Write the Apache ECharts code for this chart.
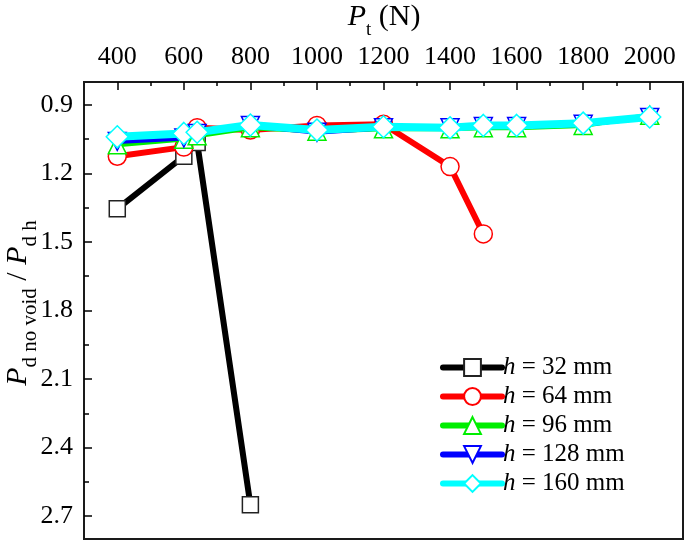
<!DOCTYPE html>
<html><head><meta charset="utf-8">
<script src="https://cdn.jsdelivr.net/npm/echarts@6/dist/echarts.min.js"></script>
<style>html,body{margin:0;padding:0;background:#fff}#c{width:685px;height:541px}</style>
</head><body><div id="c"></div>
<script>
// ---- data ----
const seriesNames = ['h = 32 mm','h = 64 mm','h = 96 mm','h = 128 mm','h = 160 mm'];
const x32 = [400, 600, 640, 800];
const y32 = [1.355, 1.125, 1.065, 2.65];
const x64 = [400, 600, 640, 800, 1000, 1200, 1400, 1500];
const y64 = [1.125, 1.085, 1.0, 1.01, 0.99, 0.985, 1.17, 1.465];
const x96 = [400, 600, 640, 800, 1000, 1200, 1400, 1500, 1600, 1800, 2000];
const y96 = [1.075, 1.05, 1.035, 1.0, 1.015, 1.005, 1.005, 1.0, 1.0, 0.99, 0.945];
const x128 = [400, 600, 640, 800, 1000, 1200, 1400, 1500, 1600, 1800, 2000];
const y128 = [1.06, 1.045, 1.025, 0.99, 1.02, 1.0, 1.0, 0.995, 0.995, 0.985, 0.955];
const x160 = [400, 600, 640, 800, 1000, 1200, 1400, 1500, 1600, 1800, 2000];
const y160 = [1.04, 1.025, 1.02, 0.988, 1.01, 0.996, 1.0, 0.99, 0.99, 0.98, 0.953];
const xTicks = [400, 600, 800, 1000, 1200, 1400, 1600, 1800, 2000];
const xMinorTicks = [500, 700, 900, 1100, 1300, 1500, 1700, 1900];
const yTicks = [0.9, 1.2, 1.5, 1.8, 2.1, 2.4, 2.7];
const yMinorTicks = [1.05, 1.35, 1.65, 1.95, 2.25, 2.55];

const zip = (a, b) => a.map((v, i) => [v, b[i]]);
const FONT = 'Liberation Serif';
const chart = echarts.init(document.getElementById('c'), null, {renderer: 'canvas'});

const styles = [
  {color: '#000000', border: '#222222', symbol: 'rect', size: 16, rot: 0, lw: 6},
  {color: '#ff0000', border: '#ff0000', symbol: 'circle', size: 18, rot: 0, lw: 6},
  {color: '#00ee00', border: '#00ee00', symbol: 'triangle', size: 18, rot: 0, lw: 5},
  {color: '#0000ff', border: '#0000ff', symbol: 'triangle', size: 18, rot: 180, lw: 5},
  {color: '#00ffff', border: '#00ffff', symbol: 'diamond', size: 22, rot: 0, lw: 8}
];
const datas = [zip(x32, y32), zip(x64, y64), zip(x96, y96), zip(x128, y128), zip(x160, y160)];

const series = seriesNames.map((n, i) => ({
  name: n, type: 'line', data: datas[i],
  xAxisIndex: 0, yAxisIndex: 0,
  symbol: styles[i].symbol, symbolSize: styles[i].size, symbolRotate: styles[i].rot,
  showAllSymbol: true,
  lineStyle: {color: styles[i].color, width: styles[i].lw, cap: 'round', join: 'round'},
  itemStyle: {color: '#ffffff', borderColor: styles[i].border, borderWidth: 1.5},
  emphasis: {disabled: true},
  animation: false, z: 2 + i
}));

const baseX = {type: 'value', position: 'top', min: 300, max: 2100,
  splitLine: {show: false}, axisLine: {show: false}};
const baseY = {type: 'value', inverse: true, min: 0.8, max: 2.8,
  splitLine: {show: false}, axisLine: {show: false}};

chart.setOption({
  animation: false,
  backgroundColor: '#ffffff',
  grid: {left: 84, right: 2, top: 82, bottom: 2, show: true, borderColor: '#1a1a1a', borderWidth: 2, backgroundColor: 'transparent', containLabel: false},
  xAxis: [
    Object.assign({}, baseX, {
      axisTick: {show: true, inside: true, length: 8, customValues: xTicks, lineStyle: {color: '#000', width: 1.5}},
      axisLabel: {show: true, customValues: xTicks, margin: 12, fontFamily: FONT, fontSize: 26, color: '#000',
        formatter: v => String(v)}
    }),
    Object.assign({}, baseX, {
      axisTick: {show: true, inside: true, length: 4, customValues: xMinorTicks, lineStyle: {color: '#000', width: 1.5}},
      axisLabel: {show: false}
    })
  ],
  yAxis: [
    Object.assign({}, baseY, {
      axisTick: {show: true, inside: true, length: 8, customValues: yTicks, lineStyle: {color: '#000', width: 1.5}},
      axisLabel: {show: true, customValues: yTicks, margin: 11, fontFamily: FONT, fontSize: 26, color: '#000',
        formatter: v => v.toFixed(1)}
    }),
    Object.assign({}, baseY, {
      position: 'left',
      axisTick: {show: true, inside: true, length: 5, customValues: yMinorTicks, lineStyle: {color: '#000', width: 1.5}},
      axisLabel: {show: false}
    })
  ],
  legend: {
    orient: 'vertical', left: 435, top: 350, itemWidth: 59, itemHeight: 21, itemGap: 4,
    data: seriesNames,
    selectedMode: false,
    lineStyle: {width: 6, cap: 'round'},
    formatter: n => '{i|h}' + n.slice(1),
    textStyle: {fontFamily: FONT, fontSize: 25, lineHeight: 22, color: '#000', padding: [0, 0, 0, -4],
      rich: {i: {fontFamily: FONT, fontStyle: 'italic', fontSize: 25, lineHeight: 22, color: '#000'}}}
  },
  graphic: [
    {type: 'text', x: 384, y: 2,
      style: {
        text: '{p|P}{s|t}{n| (N)}',
        align: 'center',
        rich: {
          p: {fontFamily: FONT, fontStyle: 'italic', fontSize: 30, color: '#000', lineHeight: 34, verticalAlign: 'top'},
          s: {fontFamily: FONT, fontSize: 19, color: '#000', lineHeight: 20, verticalAlign: 'bottom', padding: [0, 0, -4, 0]},
          n: {fontFamily: FONT, fontSize: 30, color: '#000', lineHeight: 34, verticalAlign: 'top'}
        }
      }
    },
    {type: 'text', x: 3, y: 303, rotation: Math.PI / 2,
      style: {
        text: '{p|P}{s|d no void}{n| / }{p|P}{s|d h}',
        align: 'center', verticalAlign: 'top',
        rich: {
          p: {fontFamily: FONT, fontStyle: 'italic', fontSize: 30, color: '#000', lineHeight: 34, verticalAlign: 'top'},
          s: {fontFamily: FONT, fontSize: 21, color: '#000', lineHeight: 20, verticalAlign: 'bottom', padding: [0, 0, -4, 0]},
          n: {fontFamily: FONT, fontSize: 30, color: '#000', lineHeight: 34, verticalAlign: 'top'}
        }
      }
    }
  ],
  series: series
});
</script></body></html>
